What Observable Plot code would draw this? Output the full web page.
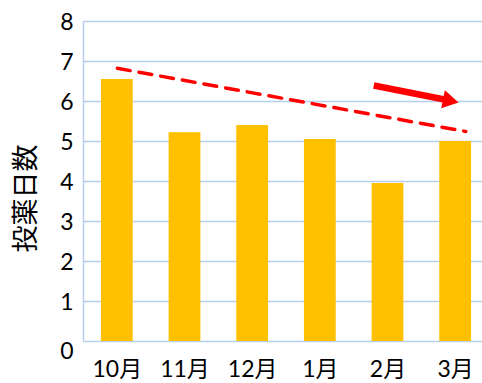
<!DOCTYPE html>
<html>
<head>
<meta charset="utf-8">
<script src="https://cdn.jsdelivr.net/npm/d3@7"></script>
<script src="https://cdn.jsdelivr.net/npm/@observablehq/plot@0.6"></script>
<style>
  body { margin: 0; background: #fff; }
</style>
</head>
<body>
<div id="chart"></div>
<script>
// Monthly medication days
const months = ["10月", "11月", "12月", "1月", "2月", "3月"];
const days = [6.55, 5.22, 5.4, 5.05, 3.95, 5.0];
const yTicks = [0, 1, 2, 3, 4, 5, 6, 7, 8];
const yTitle = "投薬日数";

// Downward trend line (month index, days)
const trendX = [0, 5.15];
const trendY = [6.83, 5.25];

// Arrow showing the decrease (month index, days): tail, head
const arrowX = [3.79, 4.89];
const arrowY = [6.4, 6.03];

const bars = months.map((m, i) => ({i, m, v: days[i]}));
const trend = trendX.map((x, k) => ({x, y: trendY[k]}));
const arrow = [{x1: arrowX[0], y1: arrowY[0], x2: arrowX[1], y2: arrowY[1]}];

const gridColor = "#B7CFEA";
const halfBar = 0.235;

const chart = Plot.plot({
  width: 482,
  height: 383,
  marginLeft: 83,
  marginRight: 0,
  marginTop: 21,
  marginBottom: 42,
  style: {fontFamily: "Lato, 'Noto Sans CJK JP', sans-serif", background: "#fff", color: "#000"},
  x: {domain: [-0.5, 5.5], range: [83, 489]},
  y: {domain: [0, 8], range: [341, 21]},
  marks: [
    Plot.ruleY(yTicks, {stroke: gridColor, strokeWidth: 1.5}),
    Plot.ruleX([-0.5], {stroke: gridColor, strokeWidth: 1.5}),
    Plot.rectY(bars, {x1: d => d.i - halfBar, x2: d => d.i + halfBar, y1: 0, y2: "v", fill: "#FFC000"}),
    Plot.line(trend, {x: "x", y: "y", stroke: "#FF0000", strokeWidth: 3.5, strokeDasharray: "13,9"}),
    Plot.link(arrow, {x1: "x1", y1: "y1", x2: "x2", y2: "y2", stroke: "#FF0000", strokeWidth: 6.5}),
    Plot.dot(arrow, {x: "x2", y: "y2", symbol: "triangle", r: 6.8, fill: "#FF0000", stroke: "none", rotate: 101.6}),
    // tick labels above zero sit on their gridlines; the zero label hangs a little below the base
    Plot.axisY({ticks: yTicks.filter(t => t > 0), tickSize: 0, tickPadding: 10, fontSize: 23, dy: 1, label: null}),
    Plot.axisY({ticks: [yTicks[0]], tickSize: 0, tickPadding: 10, fontSize: 23, dy: 10, label: null}),
    Plot.axisX({ticks: months.map((m, i) => i), tickFormat: i => months[i], tickSize: 0, tickPadding: 19, fontSize: 23, label: null}),
    Plot.text([yTitle], {frameAnchor: "left", textAnchor: "middle", rotate: -90, dx: -57, dy: 17, fontSize: 27, fill: "#000"})
  ]
});

document.getElementById("chart").append(chart);
</script>
</body>
</html>
